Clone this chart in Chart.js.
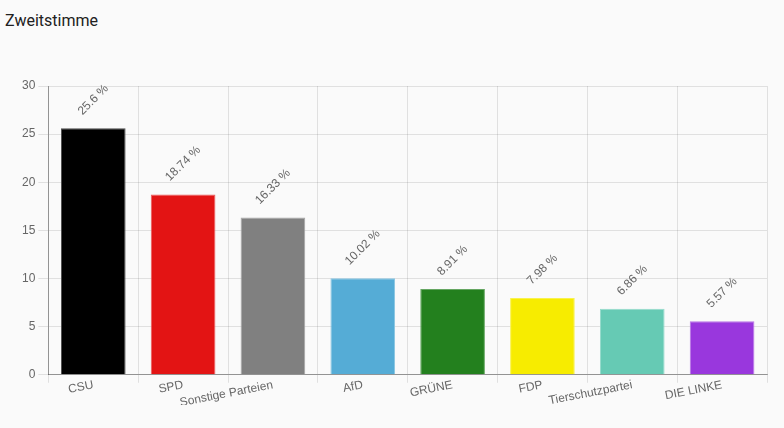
<!DOCTYPE html>
<html>
<head>
<meta charset="utf-8">
<script src="https://cdn.jsdelivr.net/npm/chart.js"></script>
<style>
    html, body { margin: 0; padding: 0; background: #fafafa; }
    #wrap { position: relative; width: 784px; height: 428px; }
    #title {
        position: absolute; left: 5px; top: 11px;
        font-family: Roboto, sans-serif; font-size: 16px; color: #212121;
    }
    #chart { position: absolute; left: 0; top: 0; }
</style>
</head>
<body>
<div id="wrap">
    <div id="title">Zweitstimme</div>
    <canvas id="chart" width="784" height="428"></canvas>
</div>
<script>
const parties = ['CSU', 'SPD', 'Sonstige Parteien', 'AfD', 'GRÜNE', 'FDP', 'Tierschutzpartei', 'DIE LINKE'];
const shares = [25.6, 18.74, 16.33, 10.02, 8.91, 7.98, 6.86, 5.57];
const partyColors = ['#000000', '#e31414', '#808080', '#55acd6', '#23801e', '#f7ec00', '#66cab4', '#9937dd'];

// lighter edge around each bar
function lighten(hex, f) {
    let n = parseInt(hex.slice(1), 16);
    let r = (n >> 16) & 255, g = (n >> 8) & 255, b = n & 255;
    r = Math.round(r + (255 - r) * f);
    g = Math.round(g + (255 - g) * f);
    b = Math.round(b + (255 - b) * f);
    return `rgb(${r},${g},${b})`;
}

// value labels above the bars, turned 45 degrees
const valueLabels = {
    id: 'valueLabels',
    afterDatasetsDraw(chart) {
        const ctx = chart.ctx;
        const meta = chart.getDatasetMeta(0);
        ctx.save();
        ctx.font = '12px "Helvetica Neue", Helvetica, Arial, sans-serif';
        ctx.fillStyle = '#666';
        ctx.textAlign = 'center';
        ctx.textBaseline = 'middle';
        meta.data.forEach((bar, i) => {
            const text = shares[i] + ' %';
            const w = ctx.measureText(text).width;
            const cy = bar.y - 11 - (w + 12) * 0.3536;
            ctx.save();
            ctx.translate(bar.x, cy);
            ctx.rotate(-Math.PI / 4);
            ctx.fillText(text, 0, 0);
            ctx.restore();
        });
        ctx.restore();
    }
};

new Chart(document.getElementById('chart'), {
    type: 'bar',
    data: {
        labels: parties,
        datasets: [{
            data: shares,
            backgroundColor: partyColors,
            borderColor: partyColors.map(c => lighten(c, 0.3)),
            borderWidth: 1
        }]
    },
    options: {
        responsive: false,
        animation: false,
        layout: { padding: { top: 86, right: 17, bottom: 23, left: 19 } },
        plugins: {
            legend: { display: false },
            tooltip: { enabled: false }
        },
        scales: {
            x: {
                grid: { color: 'rgba(0,0,0,0.1)', offset: true, tickLength: 8 },
                border: { color: 'rgba(0,0,0,0.35)' },
                ticks: {
                    color: '#666', font: { size: 12 },
                    autoSkip: false, minRotation: 11, maxRotation: 11, padding: -5
                }
            },
            y: {
                min: 0,
                max: 30,
                ticks: { stepSize: 5, color: '#666', font: { size: 12 } },
                grid: { color: 'rgba(0,0,0,0.1)', tickLength: 10 },
                border: { color: 'rgba(0,0,0,0.35)' }
            }
        }
    },
    plugins: [valueLabels]
});
</script>
</body>
</html>
